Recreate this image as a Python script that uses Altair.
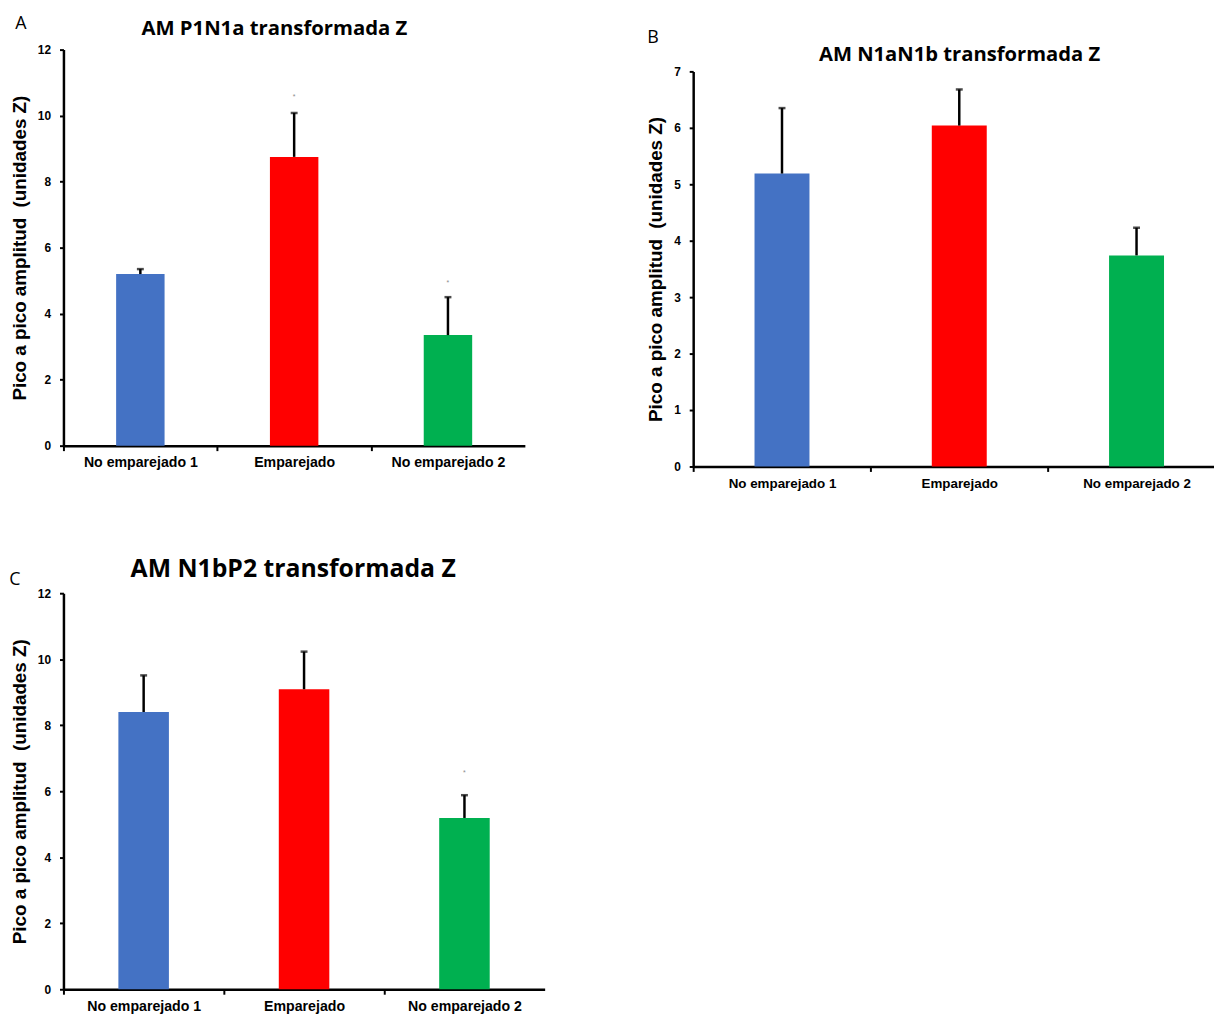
import altair as alt
import pandas as pd

categories = ["No emparejado 1", "Emparejado", "No emparejado 2"]
bar_colors = ["#4472C4", "#FF0000", "#00B050"]
y_title = "Pico a pico amplitud \u00a0(unidades Z)"

a_title = "AM P1N1a transformada Z"
a_means = [5.2, 8.75, 3.35]
a_errors = [0.15, 1.33, 1.15]
a_star_cats = ["Emparejado", "No emparejado 2"]
a_star_vals = [10.56, 4.92]
a_ticks = [0, 2, 4, 6, 8, 10, 12]

b_title = "AM N1aN1b transformada Z"
b_means = [5.19, 6.04, 3.74]
b_errors = [1.16, 0.64, 0.49]
b_star_cats = []
b_star_vals = []
b_ticks = [0, 1, 2, 3, 4, 5, 6, 7]

c_title = "AM N1bP2 transformada Z"
c_means = [8.4, 9.09, 5.19]
c_errors = [1.11, 1.14, 0.69]
c_star_cats = ["No emparejado 2"]
c_star_vals = [6.54]
c_ticks = [0, 2, 4, 6, 8, 10, 12]


def panel(letter, title, means, errors, ticks, star_cats, star_vals, width, height,
          pad_inner, pad_outer, band_align, title_size, title_x, title_y,
          letter_x, letter_y, label_size, y_top=0):
    step = width / (3 - pad_inner + 2 * pad_outer)
    df = pd.DataFrame({"Grupo": categories, "Media": means,
                       "Tope": [m + e for m, e in zip(means, errors)]})
    xaxis = alt.Axis(labelAngle=0, labelFont="Liberation Sans", labelFontWeight="bold",
                     labelFontSize=label_size, labelColor="black", tickOffset=-step / 2,
                     labelOffset=step / 2, tickSize=5, tickWidth=2, tickColor="black",
                     domainColor="black", domainWidth=2.5, labelPadding=5, title=None)
    xenc = alt.X("Grupo:N", sort=categories, title=None,
                 scale=alt.Scale(paddingInner=pad_inner, paddingOuter=pad_outer, align=band_align),
                 axis=xaxis)
    yscale = alt.Scale(domain=[ticks[0], ticks[-1]], nice=False, zero=True,
                       range=[height, y_top])
    yaxis = alt.Axis(values=ticks, title=y_title, titleFont="Liberation Sans", titleFontSize=19,
                     titleFontWeight="bold", titleColor="black", labelFont="Liberation Sans",
                     labelFontWeight="bold", labelFontSize=12, labelColor="black", grid=False,
                     tickSize=4, tickWidth=2, tickColor="black", domainColor="black",
                     domainWidth=2.5, labelPadding=9, titlePadding=8)
    base = alt.Chart(df)
    bars = base.mark_bar().encode(
        x=xenc,
        y=alt.Y("Media:Q", scale=yscale, axis=yaxis, title=y_title),
        color=alt.Color("Grupo:N", scale=alt.Scale(domain=categories, range=bar_colors), legend=None),
    )
    rules = base.mark_rule(color="black", strokeWidth=2.5).encode(
        x=xenc, y=alt.Y("Media:Q", scale=yscale, axis=yaxis, title=y_title), y2="Tope:Q")
    caps = base.mark_tick(color="black", thickness=2.5, size=7).encode(
        x=xenc, y=alt.Y("Tope:Q", scale=yscale, axis=yaxis, title=y_title))
    layers = [bars, rules, caps]
    if star_cats:
        sdf = pd.DataFrame({"Grupo": star_cats, "Valor": star_vals, "Marca": ["*"] * len(star_cats)})
        stars = alt.Chart(sdf).mark_text(fontSize=7, color="#8a8a8a", font="Liberation Sans",
                                         baseline="middle").encode(
            x=xenc, y=alt.Y("Valor:Q", scale=yscale, axis=yaxis, title=y_title), text="Marca:N")
        layers.append(stars)
    ldf = pd.DataFrame({"Letra": [letter]})
    let = alt.Chart(ldf).mark_text(font="Open Sans", fontSize=18, color="black",
                                   align="center", baseline="middle").encode(
        x=alt.value(letter_x), y=alt.value(letter_y), text="Letra:N")
    layers.append(let)
    tdf = pd.DataFrame({"Titulo": [title]})
    ttl = alt.Chart(tdf).mark_text(font="Open Sans", fontSize=title_size, fontWeight="bold",
                                   color="black", align="center", baseline="middle").encode(
        x=alt.value(title_x), y=alt.value(title_y), text="Titulo:N")
    layers.append(ttl)
    return alt.layer(*layers).properties(width=width, height=height)


pa = panel("A", a_title, a_means, a_errors, a_ticks, a_star_cats, a_star_vals,
           466, 400, 0.685, 0.3425, 0.5, 20.5, 213, -21, -43, -25.5, 14.3)
pb = panel("B", b_title, b_means, b_errors, b_ticks, b_star_cats, b_star_vals,
           526, 421, 0.69, 0.314, 0.551, 20.4, 269, 5, -40.5, -11.5, 13.5, y_top=22)
pc = panel("C", c_title, c_means, c_errors, c_ticks, c_star_cats, c_star_vals,
           486, 400, 0.685, 0.3425, 0.5, 25, 232, -24, -49, -13.5, 14.3)

top = alt.hconcat(pa, pb, spacing=123)
chart = alt.vconcat(top, pc, spacing=68).configure_view(stroke=None).properties(
    padding={"left": 1, "top": 2, "right": 0, "bottom": 0}, background="white")

chart.save("out.html", embed_options={"renderer": "svg", "actions": False})
